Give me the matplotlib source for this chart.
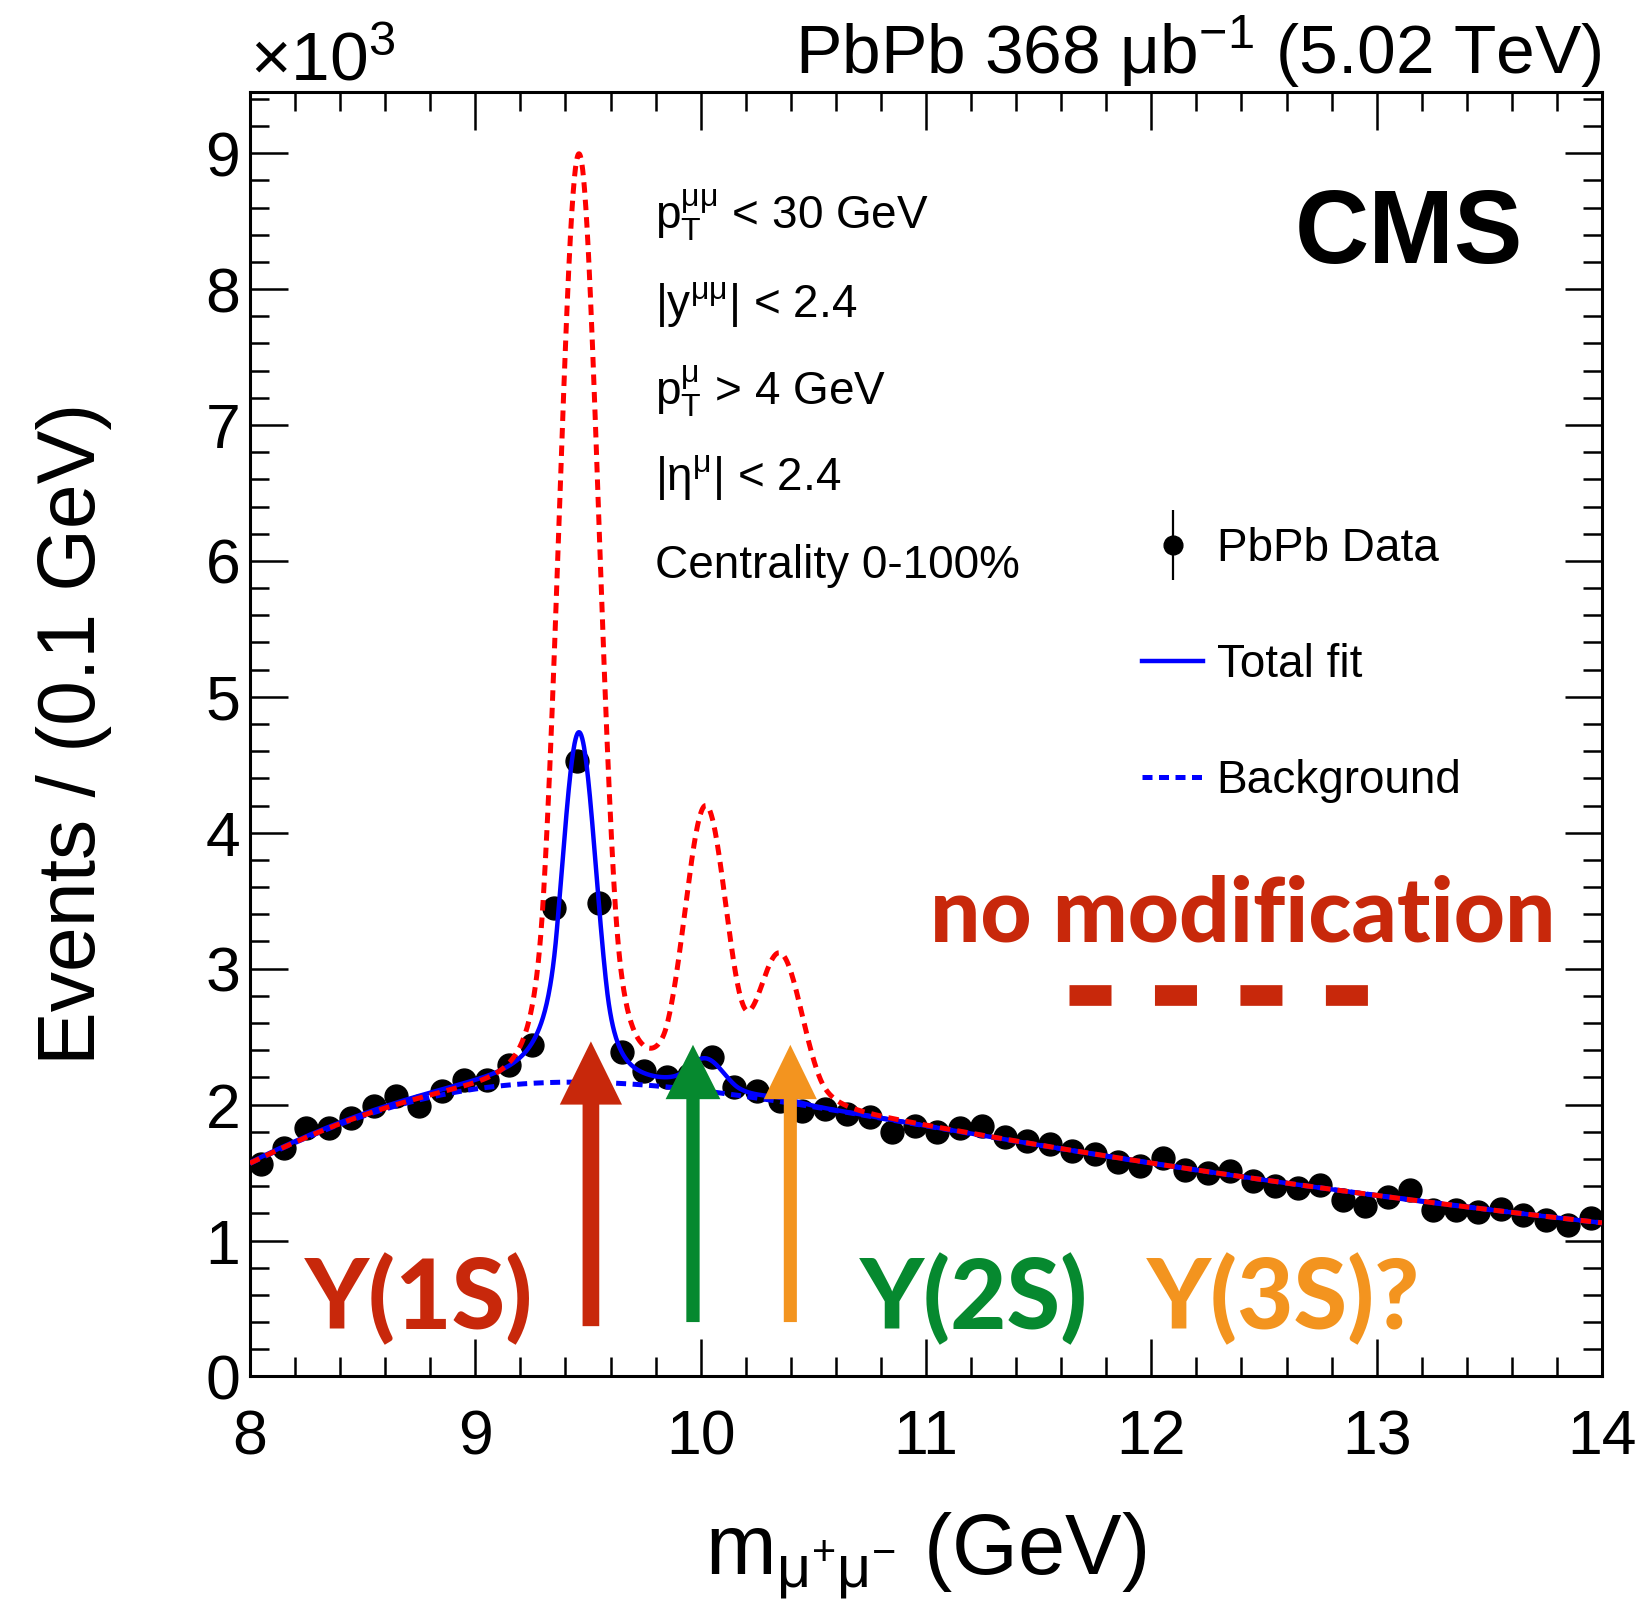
import math
import numpy as np
import matplotlib
matplotlib.use("Agg")
import matplotlib.pyplot as plt
from matplotlib.lines import Line2D
from matplotlib.legend_handler import HandlerTuple
from matplotlib.ticker import MultipleLocator

plt.rcParams['font.family'] = ['Liberation Sans', 'DejaVu Sans']
plt.rcParams['mathtext.fontset'] = 'custom'
plt.rcParams['mathtext.rm'] = 'Liberation Sans'
plt.rcParams['mathtext.it'] = 'Liberation Sans:italic'
plt.rcParams['mathtext.bf'] = 'Liberation Sans:bold'

# dimuon mass bins (GeV) and events per 0.1 GeV (x10^3)
mass = [8.05, 8.15, 8.25, 8.35, 8.45, 8.55, 8.65, 8.75, 8.85, 8.95,
        9.05, 9.15, 9.25, 9.35, 9.45, 9.55, 9.65, 9.75, 9.85, 9.95,
        10.05, 10.15, 10.25, 10.35, 10.45, 10.55, 10.65, 10.75, 10.85, 10.95,
        11.05, 11.15, 11.25, 11.35, 11.45, 11.55, 11.65, 11.75, 11.85, 11.95,
        12.05, 12.15, 12.25, 12.35, 12.45, 12.55, 12.65, 12.75, 12.85, 12.95,
        13.05, 13.15, 13.25, 13.35, 13.45, 13.55, 13.65, 13.75, 13.85, 13.95]
events = [1.565, 1.68, 1.83, 1.83, 1.90, 1.99, 2.06, 1.99, 2.10, 2.18,
          2.18, 2.29, 2.44, 3.45, 4.53, 3.48, 2.39, 2.25, 2.20, 2.22,
          2.35, 2.13, 2.10, 2.03, 1.95, 1.97, 1.93, 1.91, 1.80, 1.84,
          1.80, 1.83, 1.84, 1.76, 1.73, 1.71, 1.66, 1.64, 1.58, 1.545,
          1.61, 1.52, 1.50, 1.515, 1.44, 1.40, 1.39, 1.41, 1.30, 1.255,
          1.32, 1.37, 1.225, 1.225, 1.21, 1.23, 1.19, 1.15, 1.115, 1.165]

# fit model parameters (erf x exp background, Crystal Ball peaks)
bkg_norm = 11.26
bkg_decay = 6.09
bkg_turnon = 7.95
bkg_width = 1.6
peak_mass = [9.460, 10.023, 10.355]
fit_yield = [2.57, 0.23, 0.02]
nomod_yield = [6.82, 2.05, 1.04]
fit_sigma = 0.076
nomod_sigma = 0.088
fit_tails = [1.3, 2.0, 1.6, 3.0]
nomod_tails = [1.8, 3.0, 1.8, 3.0]

# annotations
state_labels = ['\u03a5(1S)', '\u03a5(2S)', '\u03a5(3S)?']
state_colors = ['#c8280b', '#06892f', '#f3941f']
arrow_mass = [9.513, 9.966, 10.398]
arrow_base = [0.37, 0.40, 0.40]
arrow_tip = [2.465, 2.44, 2.44]
arrow_shaft = [0.074, 0.059, 0.058]
arrow_head = [0.276, 0.243, 0.235]
arrow_head_len = [0.465, 0.40, 0.40]
label_mass = [8.75, 11.215, 12.585]
cuts = [r'$\mathrm{p_{T}^{\mu\mu}}$ < 30 GeV',
        r'|y$^{\mathrm{\mu\mu}}$| < 2.4',
        r'$\mathrm{p_{T}^{\mu}}$ > 4 GeV',
        r'|$\mathrm{\eta^{\mu}}$| < 2.4',
        'Centrality 0-100%']
cut_ypos = [0.894, 0.825, 0.757, 0.690, 0.622]


def crystal_ball(t, a_lo, n_lo, a_hi, n_hi):
    out = np.exp(-0.5 * t ** 2)
    lo = t < -a_lo
    amp = (n_lo / a_lo) ** n_lo * np.exp(-0.5 * a_lo ** 2)
    out[lo] = amp * (n_lo / a_lo - a_lo - t[lo]) ** (-n_lo)
    hi = t > a_hi
    amp = (n_hi / a_hi) ** n_hi * np.exp(-0.5 * a_hi ** 2)
    out[hi] = amp * (n_hi / a_hi - a_hi + t[hi]) ** (-n_hi)
    return out


def background(m):
    erf = np.array([math.erf(v) for v in (m - bkg_turnon) / bkg_width])
    return bkg_norm * np.exp(-m / bkg_decay) * 0.5 * (1 + erf)


def total(m, yields, sigma, tails):
    y = background(m)
    for m0, n in zip(peak_mass, yields):
        s = sigma * m0 / peak_mass[0]
        y = y + n * crystal_ball((m - m0) / s, *tails)
    return y


mgrid = np.linspace(8, 14, 3000)

fig = plt.figure(figsize=(16.5, 16.11), dpi=100)
ax = fig.add_axes([0.1515, 0.1456, 0.8194, 0.7973])

ax.plot(mass, events, 'o', color='black', ms=16.5, zorder=2)
ax.plot(mgrid, background(mgrid), color='#0000ff', lw=3.6,
        ls=(0, (2.0, 1.3)), zorder=3)
ax.plot(mgrid, total(mgrid, fit_yield, fit_sigma, fit_tails),
        color='#0000ff', lw=3.2, zorder=3)
ax.plot(mgrid, total(mgrid, nomod_yield, nomod_sigma, nomod_tails),
        color='#ff0000', lw=3.6, ls=(0, (2.1, 1.4)), zorder=4)

for x, b, t, w, hw, hl, c in zip(arrow_mass, arrow_base, arrow_tip, arrow_shaft,
                                 arrow_head, arrow_head_len, state_colors):
    ax.arrow(x, b, 0, t - b, width=w, head_width=hw, head_length=hl,
             length_includes_head=True, color=c, lw=0, zorder=6)

for x, lab, c in zip(label_mass, state_labels, state_colors):
    ax.text(x, 0.35, lab, color=c, fontsize=70, fontweight='black',
            family=['Lato', 'DejaVu Sans'], ha='center', va='baseline', zorder=6)

ax.text(12.405, 3.20, 'no modification', color=state_colors[0], fontsize=64,
        fontweight='black', family=['Lato', 'DejaVu Sans'], ha='center', va='baseline')
ax.plot([11.634, 12.962], [2.81, 2.81], color=state_colors[0], lw=14.9,
        ls=(0, (2.03, 2.1)), solid_capstyle='butt', dash_capstyle='butt')

for s, y in zip(cuts, cut_ypos):
    ax.text(0.2996, y, s, transform=ax.transAxes, fontsize=33, va='baseline')

ax.text(0.9416, 0.867, 'CMS', transform=ax.transAxes, fontsize=74,
        fontweight='bold', ha='right', va='baseline')
ax.text(1.0, 1.0142, r'PbPb 368 $\mathrm{\mu}$b$^{\mathrm{-1}}$ (5.02 TeV)',
        transform=ax.transAxes, fontsize=50, ha='right', va='baseline')
ax.text(0.0, 1.009, r'$\times$10$^{3}$', transform=ax.transAxes, fontsize=50,
        ha='left', va='baseline')

# legend
h_data = (Line2D([], [], marker='|', ms=50, mew=1.6, color='black', ls='none'),
          Line2D([], [], marker='o', ms=13.5, color='black', ls='none'))
h_fit = Line2D([], [], color='#0000ff', lw=3.2)
h_bkg = Line2D([], [], color='#0000ff', lw=3.6, ls=(0, (2.0, 1.3)))
ax.legend([h_data, h_fit, h_bkg], ['PbPb Data', 'Total fit', 'Background'],
          handler_map={tuple: HandlerTuple(ndivide=1)}, loc='center left',
          bbox_to_anchor=(0.6598, 0.5537), frameon=False, fontsize=33,
          handlelength=1.33, handletextpad=0.3, labelspacing=1.57,
          borderpad=0, borderaxespad=0)

ax.set_xlim(8, 14)
ax.set_ylim(0, 9.45)
ax.xaxis.set_major_locator(MultipleLocator(1))
ax.xaxis.set_minor_locator(MultipleLocator(0.2))
ax.yaxis.set_major_locator(MultipleLocator(1))
ax.yaxis.set_minor_locator(MultipleLocator(0.2))
ax.tick_params(which='both', direction='in', top=True, right=True, width=1.8)
ax.tick_params(which='major', length=27)
ax.tick_params(which='minor', length=14)
ax.tick_params(axis='x', labelsize=45, pad=23)
ax.tick_params(axis='y', labelsize=45, pad=7)
for sp in ax.spines.values():
    sp.set_linewidth(2.2)

ax.set_xlabel(r'm$_{\mathrm{\mu^{+}\mu^{-}}}$ (GeV)', fontsize=61)
ax.set_ylabel('Events / (0.1 GeV)', fontsize=58)
ax.xaxis.set_label_coords(0.5, -0.104)
ax.yaxis.set_label_coords(-0.102, 0.5)

fig.savefig('out.png', dpi=100)
